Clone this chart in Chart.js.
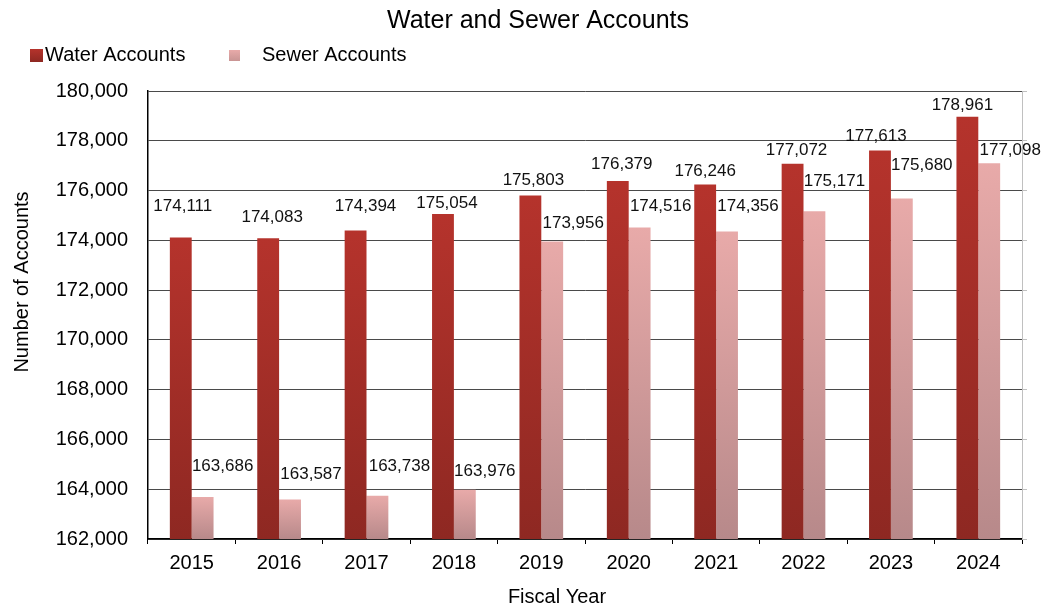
<!DOCTYPE html>
<html>
<head>
<meta charset="utf-8">
<script src="https://cdn.jsdelivr.net/npm/chart.js@4/dist/chart.umd.min.js"></script>
<style>
  html, body { margin: 0; padding: 0; background: #ffffff; }
  #wrap { width: 1047px; height: 607px; position: relative; }
</style>
</head>
<body>
<div id="wrap"><canvas id="c" width="1047" height="607"></canvas></div>
<script>
const chartTitle = 'Water and Sewer Accounts';
const xAxisTitle = 'Fiscal Year';
const yAxisTitle = 'Number of Accounts';
const years = ['2015', '2016', '2017', '2018', '2019', '2020', '2021', '2022', '2023', '2024'];
const waterAccounts = [174111, 174083, 174394, 175054, 175803, 176379, 176246, 177072, 177613, 178961];
const sewerAccounts = [163686, 163587, 163738, 163976, 173956, 174516, 174356, 175171, 175680, 177098];
const seriesNames = ['Water Accounts', 'Sewer Accounts'];
const yMin = 162000, yMax = 180000, yStep = 2000;

// label nudges (px) relative to the top-centre of each bar, as placed in the original
const waterLabelNudge = [[2,-31],[4,-21],[10,-24],[4,-11],[3,-15],[4,-17],[0,-13],[4,-14],[-4,-14],[-5,-12]];
const sewerLabelNudge = [[20,-31],[21,-25],[22,-29],[20,-19],[21,-18],[21,-21],[21,-25],[20,-30],[20,-33],[21,-13]];

const FONT = "'Liberation Sans', Arial, sans-serif";
const fmt = v => v.toLocaleString('en-US');

function barGradient(topColor, bottomColor) {
  return function(ctx) {
    const chart = ctx.chart;
    if (!chart.chartArea || ctx.type !== 'data') return topColor;
    const ys = chart.scales.y;
    const top = ys.getPixelForValue(ctx.raw);
    const bottom = ys.bottom;
    const g = chart.ctx.createLinearGradient(0, top, 0, bottom);
    g.addColorStop(0, topColor);
    g.addColorStop(1, bottomColor);
    return g;
  };
}

const decorPlugin = {
  id: 'decor',
  afterDraw(chart) {
    const c = chart.ctx;
    c.save();
    // title
    c.fillStyle = '#000';
    c.font = '25px ' + FONT;
    c.textAlign = 'center';
    c.textBaseline = 'middle';
    c.fillText(chartTitle, 538, 21);
    // legend
    c.font = '20px ' + FONT;
    c.textAlign = 'left';
    let g1 = c.createLinearGradient(0, 49, 0, 62);
    g1.addColorStop(0, '#b5332c'); g1.addColorStop(1, '#8e2822');
    c.fillStyle = g1;
    c.fillRect(30, 49, 13, 13);
    c.fillStyle = '#000';
    c.fillText(seriesNames[0], 45, 55);
    let g2 = c.createLinearGradient(0, 50, 0, 61);
    g2.addColorStop(0, '#e8aaa9'); g2.addColorStop(1, '#c99594');
    c.fillStyle = g2;
    c.fillRect(229, 50, 11, 11);
    c.fillStyle = '#000';
    c.fillText(seriesNames[1], 262, 55);
    // axis titles
    c.font = '20px ' + FONT;
    c.textAlign = 'center';
    c.fillText(xAxisTitle, 557, 597);
    c.translate(22, 282);
    c.rotate(-Math.PI / 2);
    c.fillText(yAxisTitle, 0, 0);
    c.restore();
  },
  afterDatasetsDraw(chart) {
    const c = chart.ctx;
    c.save();
    c.font = '17px ' + FONT;
    c.fillStyle = '#111';
    c.textAlign = 'center';
    c.textBaseline = 'middle';
    const nudges = [waterLabelNudge, sewerLabelNudge];
    chart.data.datasets.forEach((ds, di) => {
      const meta = chart.getDatasetMeta(di);
      meta.data.forEach((bar, i) => {
        const n = nudges[di][i];
        c.fillText(fmt(ds.data[i]), bar.x + n[0], bar.y + n[1]);
      });
    });
    c.restore();
  }
};

new Chart(document.getElementById('c'), {
  type: 'bar',
  data: {
    labels: years,
    datasets: [
      { label: seriesNames[0], data: waterAccounts, backgroundColor: barGradient('#b5332c', '#8e2822'),
        categoryPercentage: 0.5, barPercentage: 1.0, yAxisID: 'y' },
      { label: seriesNames[1], data: sewerAccounts, backgroundColor: barGradient('#e8aaa9', '#b7898a'),
        categoryPercentage: 0.5, barPercentage: 1.0, yAxisID: 'y' }
    ]
  },
  options: {
    responsive: false,
    animation: false,
    devicePixelRatio: 1,
    layout: { padding: { top: 91, left: 0, right: 0, bottom: 0 } },
    plugins: {
      legend: { display: false },
      title: { display: false },
      tooltip: { enabled: false }
    },
    scales: {
      x: {
        offset: true,
        grid: { drawOnChartArea: false, offset: true, tickLength: 5, color: '#000', lineWidth: 1 },
        border: { color: '#000', width: 1.5 },
        ticks: { color: '#000', font: { family: FONT, size: 20 }, padding: 7 },
        afterFit(s) { s.height = 68; }
      },
      y: {
        position: 'left',
        min: yMin, max: yMax,
        grid: { color: '#4a4a4a', lineWidth: 1, drawTicks: false },
        border: { color: '#000', width: 1.5 },
        ticks: { stepSize: yStep, color: '#000', font: { family: FONT, size: 20 }, padding: 20,
                 callback: v => fmt(v) },
        afterFit(s) { s.width = 148; }
      },
      y2: {
        position: 'right',
        min: yMin, max: yMax,
        grid: { drawOnChartArea: false, tickLength: 5, color: '#c0c0c0' },
        border: { color: '#c0c0c0', width: 1 },
        ticks: { stepSize: yStep, display: false },
        afterFit(s) { s.width = 25; }
      }
    }
  },
  plugins: [decorPlugin]
});
</script>
</body>
</html>
